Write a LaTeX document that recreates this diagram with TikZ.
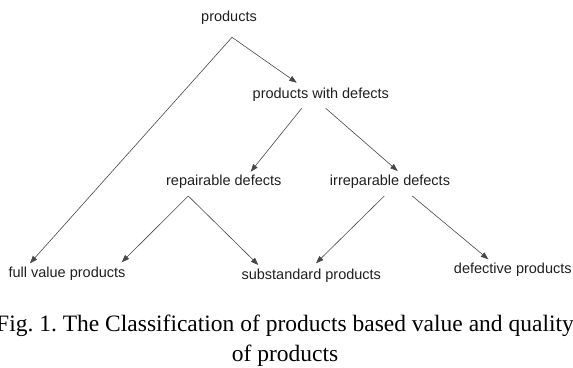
\documentclass[tikz,border=0pt]{standalone}
\usepackage{fontspec}
\setmainfont{Liberation Serif}
\newfontfamily\arialfont{Liberation Sans}
\usetikzlibrary{arrows.meta}
\frenchspacing

\begin{document}
\begin{tikzpicture}[x=1pt, y=1pt,
    lbl/.style={anchor=base, inner sep=0pt, text=black!88, font=\arialfont\fontsize{14.5}{17}\selectfont},
    captxt/.style={anchor=base, inner sep=0pt, font=\fontsize{23.5}{30}\selectfont},
    arr/.style={draw=black!72, line width=0.6pt, -{Triangle[length=7.5pt,width=5.5pt]}}]
    \useasboundingbox (0,0) rectangle (573,367);

    \node[lbl] (prod) at (229,345.4) {products};
    \node[lbl] (pwd) at (320.8,268.6) {products with defects};
    \node[lbl] (rep) at (223.8,181.6) {repairable defects};
    \node[lbl] (irr) at (390,181.6) {irreparable defects};
    \node[lbl] (full) at (67,89.6) {full value products};
    \node[lbl] (sub) at (311.3,87) {substandard products};
    \node[lbl] (def) at (512.8,93.3) {defective products};

    \coordinate (prodfork) at ([shift={(3,-15.7)}]prod.base);
    \coordinate (repfork) at ([shift={(-35.5,-10.6)}]rep.base);

    \draw[arr] (prodfork) -- ([shift={(-24.1,15.7)}]pwd.base);
    \draw[arr] (prodfork) -- ([shift={(-37,14.1)}]full.base);
    \draw[arr] ([shift={(-19.1,-9.9)}]pwd.base) -- ([shift={(26.9,13.7)}]rep.base);
    \draw[arr] ([shift={(4.9,-9.9)}]pwd.base) -- ([shift={(7.7,14.4)}]irr.base);
    \draw[arr] (repfork) -- ([shift={(54.7,15.1)}]full.base);
    \draw[arr] (repfork) -- ([shift={(-53,15)}]sub.base);
    \draw[arr] ([shift={(-5.7,-10.6)}]irr.base) -- ([shift={(4.7,16.7)}]sub.base);
    \draw[arr] ([shift={(22.3,-10.6)}]irr.base) -- ([shift={(-24.5,14.4)}]def.base);

    \node[captxt] (cap1) at (285,35.3) {Fig. 1. The Classification of products based value and quality};
    \node[captxt] (cap2) at (285,5.3) {of products};
\end{tikzpicture}
\end{document}
